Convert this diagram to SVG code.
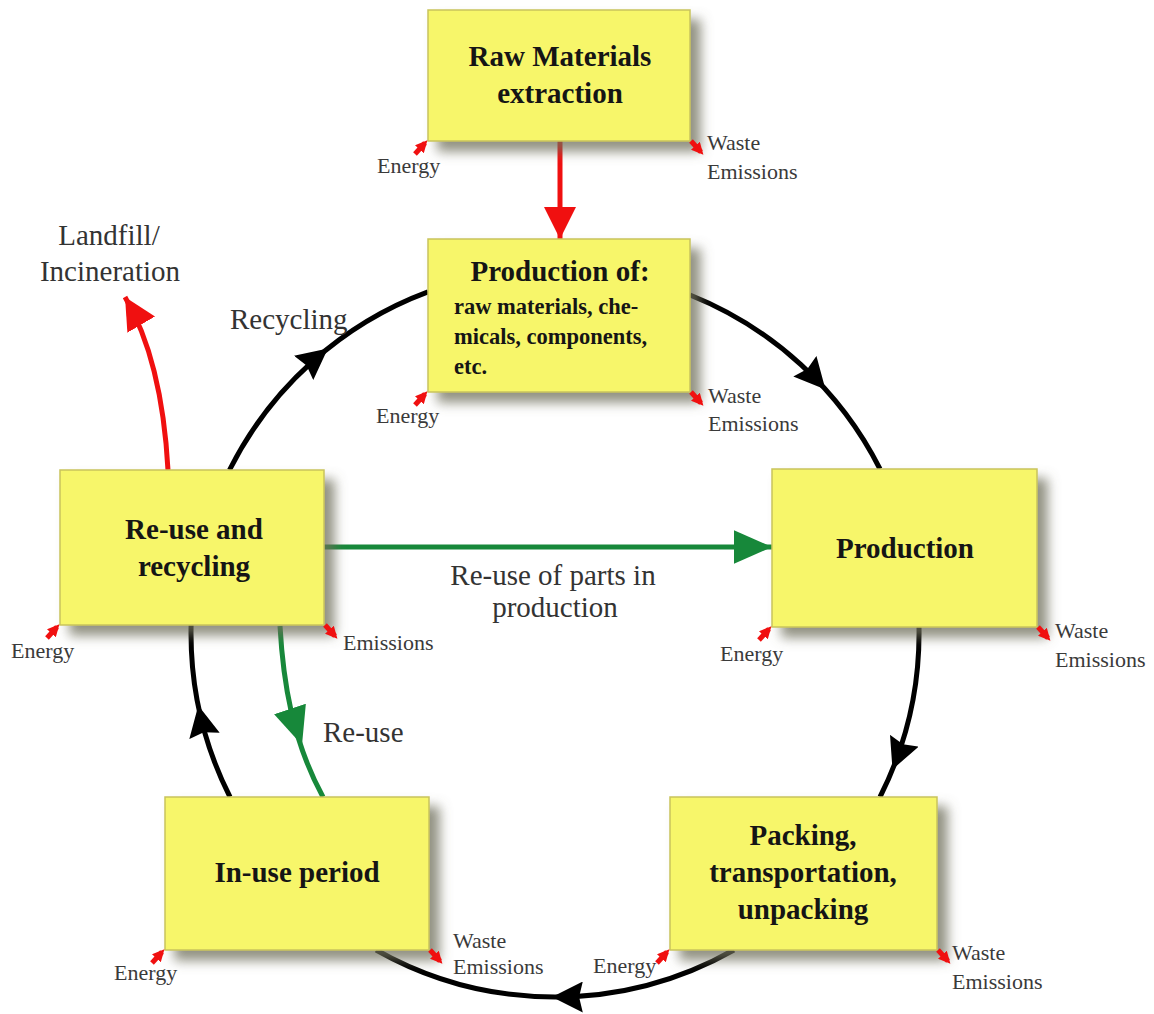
<svg xmlns="http://www.w3.org/2000/svg" width="1154" height="1014" viewBox="0 0 1154 1014">
<style>
.box{fill:#F7F66A;stroke:#C9C35C;stroke-width:1.5}
.t{font-family:"Liberation Serif",serif;font-weight:bold;font-size:29px;fill:#151515;text-anchor:middle}
.st{font-family:"Liberation Serif",serif;font-weight:bold;font-size:22.5px;fill:#151515}
.lb{font-family:"Liberation Serif",serif;font-size:29px;fill:#333}
.sm{font-family:"Liberation Serif",serif;font-size:22px;fill:#3a3a3a}
.blk{fill:none;stroke:#000;stroke-width:5}
.red{fill:none;stroke:#F01010;stroke-width:5}
.grn{fill:none;stroke:#17883A;stroke-width:5}
.sr{fill:none;stroke:#F01010;stroke-width:5}
.mk{fill:none;stroke:none}
</style>
<defs>
<filter id="sh" x="-10%" y="-10%" width="135%" height="140%">
<feGaussianBlur in="SourceAlpha" stdDeviation="6"/>
<feOffset dx="10" dy="10" result="o"/>
<feFlood flood-color="#6E6E5A" flood-opacity="0.75"/>
<feComposite in2="o" operator="in"/>
<feMerge><feMergeNode/><feMergeNode in="SourceGraphic"/></feMerge>
</filter>
<marker id="ab" viewBox="0 0 10 10" refX="10" refY="5" markerUnits="userSpaceOnUse" markerWidth="31" markerHeight="31" orient="auto"><path d="M0,0 L10,5 L0,10 L1.2,5 z" fill="#000"/></marker>
<marker id="ar" viewBox="0 0 10 10" refX="10" refY="5" markerUnits="userSpaceOnUse" markerWidth="32" markerHeight="32" orient="auto"><path d="M0,0 L10,5 L0,10 z" fill="#F01010"/></marker>
<marker id="ag" viewBox="0 0 10 10" refX="10" refY="5" markerUnits="userSpaceOnUse" markerWidth="38" markerHeight="38" orient="auto"><path d="M0,0.6 L10,5 L0,9.4 z" fill="#17883A"/></marker>
<marker id="as" viewBox="0 0 10 10" refX="7" refY="5" markerUnits="userSpaceOnUse" markerWidth="12" markerHeight="12" orient="auto"><path d="M0,0 L10,5 L0,10 z" fill="#F01010"/></marker>
</defs>
<rect width="1154" height="1014" fill="#fff"/>

<g id="connectors">
<path class="red" d="M560,141 L560,239" marker-end="url(#ar)"/>
<path class="blk" d="M690,295 A364,364 0 0,1 880,469"/>
<path class="mk" d="M822.2,385.7 L825.5,389.4" marker-end="url(#ab)"/>
<path class="blk" d="M919,627 A364,364 0 0,1 880,797"/>
<path class="mk" d="M894.4,764.8 L892.5,769.4" marker-end="url(#ab)"/>
<path class="blk" d="M733.9,950 A364,364 0 0,1 376.1,950"/>
<path class="mk" d="M556.8,997 L551.8,997" marker-end="url(#ab)"/>
<path class="blk" d="M230,797 A364,364 0 0,1 191.1,625"/>
<path class="mk" d="M199.3,710.5 L198.3,705.6" marker-end="url(#ab)"/>
<path class="blk" d="M229.5,470 A364,364 0 0,1 428,291.9"/>
<path class="mk" d="M324,351.6 L327.9,348.5" marker-end="url(#ab)"/>
<path class="grn" d="M324,547 L772,547" marker-end="url(#ag)"/>
<path class="grn" d="M280,626 C283,680 292,740 323,797"/>
<path class="mk" d="M298,733 L302,745" marker-end="url(#ag)"/>
<path class="red" d="M168,470 Q162,360 125,297" marker-end="url(#ar)"/>
</g>

<g id="raw-materials">
<rect class="box" x="428" y="10" width="262" height="131" filter="url(#sh)"/>
<text class="t" x="560" y="66">Raw Materials</text>
<text class="t" x="560" y="103">extraction</text>
<path class="sr" d="M415,154 L425,143" marker-end="url(#as)"/>
<path class="sr" d="M691,141 L701,152" marker-end="url(#as)"/>
<text class="sm" x="377" y="173">Energy</text>
<text class="sm" x="707" y="150">Waste</text>
<text class="sm" x="707" y="179">Emissions</text>
</g>

<g id="production-of">
<rect class="box" x="428" y="239" width="262" height="153" filter="url(#sh)"/>
<text class="t" x="560" y="281">Production of:</text>
<text class="st" x="454" y="314">raw materials, che-</text>
<text class="st" x="454" y="344">micals, components,</text>
<text class="st" x="454" y="374">etc.</text>
<path class="sr" d="M415,405 L425,394" marker-end="url(#as)"/>
<path class="sr" d="M691,392 L701,403" marker-end="url(#as)"/>
<text class="sm" x="376" y="423">Energy</text>
<text class="sm" x="708" y="403">Waste</text>
<text class="sm" x="708" y="431">Emissions</text>
</g>

<g id="reuse-recycling">
<rect class="box" x="60" y="470" width="264" height="155" filter="url(#sh)"/>
<text class="t" x="194" y="539">Re-use and</text>
<text class="t" x="194" y="576">recycling</text>
<path class="sr" d="M47,638 L57,627" marker-end="url(#as)"/>
<path class="sr" d="M325,625 L335,636" marker-end="url(#as)"/>
<text class="sm" x="11" y="658">Energy</text>
<text class="sm" x="343" y="650">Emissions</text>
</g>

<g id="production">
<rect class="box" x="772" y="469" width="265" height="158" filter="url(#sh)"/>
<text class="t" x="905" y="558">Production</text>
<path class="sr" d="M759,640 L769,629" marker-end="url(#as)"/>
<path class="sr" d="M1038,627 L1048,638" marker-end="url(#as)"/>
<text class="sm" x="720" y="661">Energy</text>
<text class="sm" x="1055" y="638">Waste</text>
<text class="sm" x="1055" y="667">Emissions</text>
</g>

<g id="packing">
<rect class="box" x="670" y="797" width="267" height="153" filter="url(#sh)"/>
<text class="t" x="803" y="845">Packing,</text>
<text class="t" x="803" y="882">transportation,</text>
<text class="t" x="803" y="919">unpacking</text>
<path class="sr" d="M657,963 L667,952" marker-end="url(#as)"/>
<path class="sr" d="M938,950 L948,961" marker-end="url(#as)"/>
<text class="sm" x="593" y="973">Energy</text>
<text class="sm" x="952" y="960">Waste</text>
<text class="sm" x="952" y="989">Emissions</text>
</g>

<g id="in-use">
<rect class="box" x="165" y="797" width="264" height="153" filter="url(#sh)"/>
<text class="t" x="297" y="882">In-use period</text>
<path class="sr" d="M152,963 L162,952" marker-end="url(#as)"/>
<path class="sr" d="M430,950 L440,961" marker-end="url(#as)"/>
<text class="sm" x="114" y="980">Energy</text>
<text class="sm" x="453" y="948">Waste</text>
<text class="sm" x="453" y="974">Emissions</text>
</g>

<g id="labels">
<text class="lb" x="109" y="245" text-anchor="middle">Landfill/</text>
<text class="lb" x="110" y="281" text-anchor="middle">Incineration</text>
<text class="lb" x="230" y="329">Recycling</text>
<text class="lb" x="553" y="585" text-anchor="middle">Re-use of parts in</text>
<text class="lb" x="555" y="617" text-anchor="middle">production</text>
<text class="lb" x="323" y="742">Re-use</text>
</g>
</svg>
